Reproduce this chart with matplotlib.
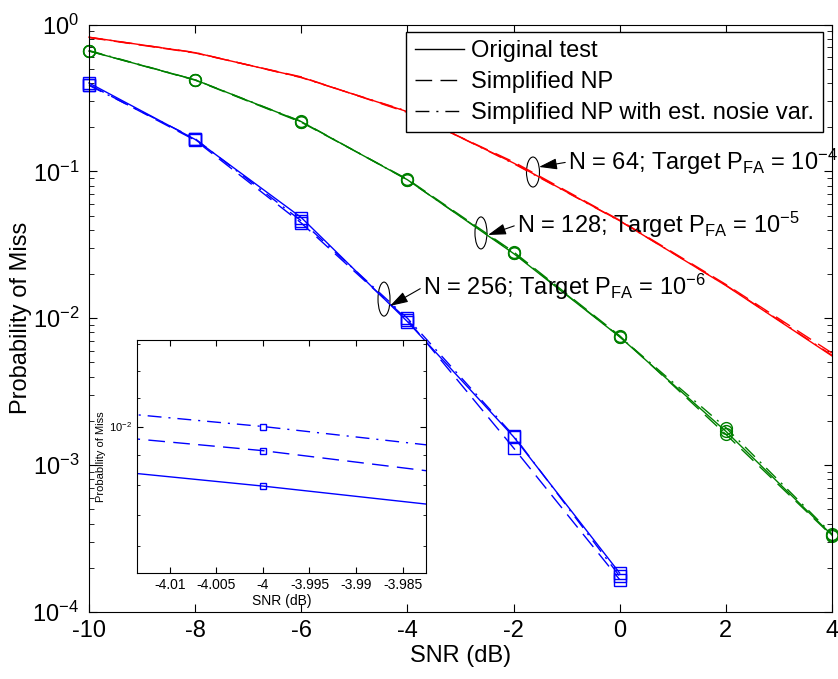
import numpy as np
import matplotlib
matplotlib.use('Agg')
import matplotlib.pyplot as plt
import matplotlib.transforms as mtransforms
from matplotlib.patches import Ellipse
from matplotlib.lines import Line2D
from matplotlib.ticker import FixedLocator, FuncFormatter, NullFormatter

plt.rcParams['font.family'] = 'Liberation Sans'
plt.rcParams['mathtext.fontset'] = 'custom'
plt.rcParams['mathtext.rm'] = 'Liberation Sans'
plt.rcParams['mathtext.it'] = 'Liberation Sans:italic'
plt.rcParams['mathtext.bf'] = 'Liberation Sans:bold'
plt.rcParams['axes.unicode_minus'] = False

#SNR grid (dB)
snr = [-10, -8, -6, -4, -2, 0, 2, 4]
snr_256 = [-10, -8, -6, -4, -2, 0]

#Probability of miss, N = 64 (target Pfa 1e-4)
pm64_orig = [0.820, 0.643, 0.437, 0.255, 0.114, 0.0461, 0.0167, 0.00554]
pm64_simp = [0.815, 0.640, 0.440, 0.252, 0.116, 0.0465, 0.0170, 0.00580]
pm64_est  = [0.818, 0.645, 0.435, 0.257, 0.113, 0.0460, 0.0168, 0.00560]

#N = 128 (target Pfa 1e-5)
pm128_orig = [0.660, 0.420, 0.218, 0.0877, 0.0276, 0.00747, 0.00170, 3.34e-4]
pm128_simp = [0.660, 0.418, 0.216, 0.0885, 0.0283, 0.00760, 0.00162, 3.30e-4]
pm128_est  = [0.665, 0.420, 0.219, 0.0875, 0.0279, 0.00750, 0.00180, 3.40e-4]

#N = 256 (target Pfa 1e-6)
pm256_orig = [0.400, 0.165, 0.0485, 0.00949, 0.00156, 1.84e-4]
pm256_simp = [0.390, 0.163, 0.0445, 0.00979, 0.00131, 1.66e-4]
pm256_est  = [0.385, 0.167, 0.0460, 0.01000, 0.00159, 1.75e-4]

legend_labels = ['Original test', 'Simplified NP', 'Simplified NP with est. nosie var.']
inset_xticks = [-4.01, -4.005, -4, -3.995, -3.99, -3.985]

red = (1, 0, 0)
green = (0, 0.5, 0)
blue = (0, 0, 1)
dash = (12, 6)
dashdot = (10, 5, 1.5, 5)

fig = plt.figure(figsize=(8.38, 6.79), dpi=100)
ax = fig.add_axes([0.1062, 0.0987, 0.8866, 0.8652])

def draw_set(a, x, ys, color, marker, ms, clip):
    styles = [dict(ls='-'), dict(dashes=dash), dict(dashes=dashdot)]
    for y, st in zip(ys, styles):
        a.plot(x, y, color=color, lw=1.0, marker=marker, ms=ms, mfc='none',
               mew=1.0, clip_on=clip, **st)

draw_set(ax, snr, [pm64_orig, pm64_simp, pm64_est], red, None, 0, False)
draw_set(ax, snr, [pm128_orig, pm128_simp, pm128_est], green, 'o', 8.5, False)
draw_set(ax, snr_256, [pm256_orig, pm256_simp, pm256_est], blue, 's', 8.5, False)

ax.set_yscale('log')
ax.set_xlim(-10, 4)
ax.set_ylim(1e-4, 1)
ax.set_xticks(np.arange(-10, 5, 2))
ax.tick_params(which='both', direction='in', top=True, right=True, labelsize=17)
ax.tick_params(which='major', length=6)
ax.tick_params(which='minor', length=3.5)
ax.tick_params(axis='y', pad=7)
ax.tick_params(axis='x', pad=6)
ax.set_xlabel('SNR (dB)', fontsize=17, labelpad=2)
ax.set_ylabel('Probability of Miss', fontsize=17, labelpad=0)

handles = [Line2D([], [], color='k', lw=1.0, ls='-'),
           Line2D([], [], color='k', lw=1.0, dashes=dash),
           Line2D([], [], color='k', lw=1.0, dashes=dashdot)]
leg = ax.legend(handles, legend_labels, loc='upper right', bbox_to_anchor=(0.9875, 0.9877),
                borderaxespad=0, fontsize=17, fancybox=False, framealpha=1,
                edgecolor='k', handlelength=2.1, handletextpad=0.3,
                labelspacing=0.38, borderpad=0.35)
leg.get_frame().set_linewidth(1.0)

#ellipses marking each curve family, sized in inches
def mark(xd, yd, w, h):
    tr = fig.dpi_scale_trans + mtransforms.ScaledTranslation(xd, yd, ax.transData)
    ax.add_patch(Ellipse((0, 0), w, h, transform=tr, fill=False, ec='k', lw=0.8, clip_on=False))

mark(-1.634, 0.099, 0.13, 0.30)
mark(-2.614, 0.0381, 0.12, 0.32)
mark(-4.441, 0.0135, 0.12, 0.34)

arrow = dict(arrowstyle='-|>,head_length=0.65,head_width=0.2', color='k', lw=0.8,
             shrinkA=0, shrinkB=0, relpos=(0, 0.5))
ax.annotate(r'N = 64; Target P$_{\rm FA}$ = 10$^{-4}$', xy=(-1.520, 0.1072),
            xytext=(-0.974, 0.1159), fontsize=17, va='center', ha='left',
            arrowprops=arrow, annotation_clip=False)
ax.annotate(r'N = 128; Target P$_{\rm FA}$ = 10$^{-5}$', xy=(-2.482, 0.0369),
            xytext=(-1.935, 0.0432), fontsize=17, va='center', ha='left',
            arrowprops=arrow)
ax.annotate(r'N = 256; Target P$_{\rm FA}$ = 10$^{-6}$', xy=(-4.328, 0.01213),
            xytext=(-3.706, 0.0163), fontsize=17, va='center', ha='left',
            arrowprops=arrow)

#zoom on the N = 256 curves around -4 dB
axin = fig.add_axes([0.1635, 0.1557, 0.3449, 0.3436])
draw_set(axin, snr_256, [pm256_orig, pm256_simp, pm256_est], blue, 's', 4.5, True)
axin.set_yscale('log')
axin.set_xlim(-4.0135, -3.9825)
axin.set_ylim(0.00879, 0.01079)
axin.xaxis.set_major_locator(FixedLocator(inset_xticks))
axin.xaxis.set_major_formatter(FuncFormatter(lambda v, p: '%g' % v))
axin.yaxis.set_minor_formatter(NullFormatter())
axin.tick_params(which='both', direction='in', top=True, right=True, labelsize=10)
axin.tick_params(axis='y', labelsize=8)
axin.tick_params(which='major', length=4)
axin.tick_params(which='minor', length=2.5)
axin.set_xlabel('SNR (dB)', fontsize=10, labelpad=1)
axin.set_ylabel('Probability of Miss', fontsize=8, labelpad=2)

fig.savefig('out.png', dpi=100)
